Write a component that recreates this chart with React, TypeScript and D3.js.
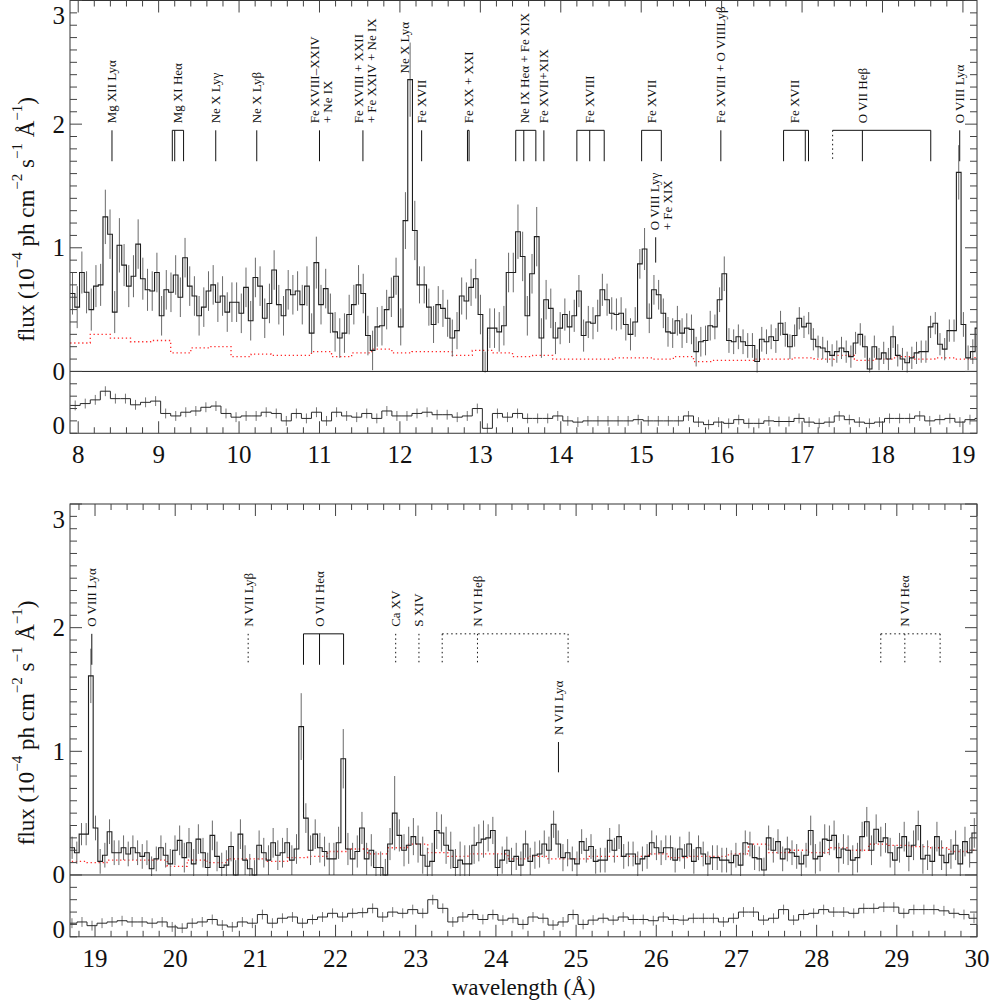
import React from "react";
import * as d3 from "d3";

// Spectrum: one bin every 0.0583 Å starting at 7.90 Å
const BIN_START = 7.9;
const BIN_WIDTH = 0.0583;

const flux = [
  0.63, 0.52, 0.8, 0.64, 0.5, 0.69, 0.7, 1.25, 1.11, 0.48,
  1.02, 0.86, 0.69, 0.77, 1.03, 0.75, 0.66, 0.65, 0.8, 0.45,
  0.66, 0.64, 0.78, 0.6, 0.92, 0.69, 0.61, 0.45, 0.52, 0.65,
  0.7, 0.56, 0.61, 0.48, 0.56, 0.56, 0.47, 0.68, 0.41, 0.76,
  0.69, 0.43, 0.55, 0.82, 0.54, 0.45, 0.66, 0.62, 0.65, 0.54,
  0.69, 0.31, 0.88, 0.54, 0.67, 0.47, 0.32, 0.27, 0.31, 0.46,
  0.54, 0.7, 0.63, 0.29, 0.17, 0.36, 0.37, 0.5, 0.6, 0.77,
  0.36, 1.22, 2.36, 1.14, 0.7, 0.7, 0.52, 0.38, 0.54, 0.51,
  0.43, 0.27, 0.33, 0.61, 0.57, 0.68, 0.75, 0.46, 0.0, 0.35,
  0.35, 0.32, 0.37, 0.8, 0.8, 1.13, 0.93, 0.45, 0.79, 1.09,
  0.27, 0.58, 0.51, 0.27, 0.35, 0.46, 0.36, 0.45, 0.65, 0.29,
  0.4, 0.39, 0.45, 0.66, 0.58, 0.47, 0.46, 0.47, 0.38, 0.3,
  0.4, 0.87, 0.99, 0.43, 0.66, 0.62, 0.47, 0.32, 0.31, 0.41,
  0.31, 0.35, 0.34, 0.16, 0.24, 0.25, 0.37, 0.36, 0.58, 0.79,
  0.25, 0.24, 0.28, 0.24, 0.21, 0.21, 0.08, 0.26, 0.24, 0.28,
  0.25, 0.39, 0.3, 0.2, 0.29, 0.43, 0.36, 0.39, 0.26, 0.2,
  0.19, 0.16, 0.13, 0.16, 0.19, 0.16, 0.12, 0.23, 0.3, 0.2,
  0.02, 0.2, 0.1, 0.15, 0.1, 0.28, 0.13, 0.1, 0.07, 0.11,
  0.15, 0.16, 0.16, 0.36, 0.39, 0.22, 0.18, 0.33, 0.33, 1.61,
  0.38, 0.11, 0.16, 0.35, 0.18, 0.18, 0.22, 0.17, 0.22, 0.18,
  0.15, 0.18, 0.05, 0.13, 0.22, 0.16, 0.09, 0.2, 0.28, 0.14,
  0.26, 0.09, 0.29, 0.18, 0.06, 0.32, 0.15, 0.06, 0.08, 0.23,
  0.0, 0.33, 0.12, 0.05, 0.0, 0.24, 0.18, 0.12, 0.26, 0.16,
  0.18, 0.26, 0.12, 0.21, 1.2, 0.46, 0.2, 0.33, 0.22, 0.19,
  0.13, 0.13, 0.26, 0.94, 0.21, 0.13, 0.19, 0.38, 0.13, 0.2,
  0.06, 0.06, 0.0, 0.25, 0.5, 0.32, 0.2, 0.24, 0.31, 0.25,
  0.16, 0.07, 0.11, 0.36, 0.34, 0.24, 0.2, 0.06, 0.12, 0.09,
  0.09, 0.24, 0.26, 0.29, 0.3, 0.36, 0.06, 0.12, 0.2, 0.11,
  0.15, 0.08, 0.25, 0.11, 0.16, 0.17, 0.25, 0.2, 0.41, 0.25,
  0.14, 0.18, 0.13, 0.09, 0.27, 0.2, 0.23, 0.11, 0.12, 0.12,
  0.28, 0.2, 0.31, 0.15, 0.17, 0.17, 0.09, 0.13, 0.15, 0.26,
  0.22, 0.18, 0.22, 0.22, 0.12, 0.21, 0.15, 0.25, 0.11, 0.22,
  0.17, 0.09, 0.14, 0.14, 0.12, 0.12, 0.1, 0.16, 0.08, 0.26,
  0.25, 0.14, 0.13, 0.04, 0.3, 0.2, 0.27, 0.13, 0.21, 0.18,
  0.15, 0.09, 0.16, 0.36, 0.13, 0.15, 0.29, 0.28, 0.32, 0.14,
  0.21, 0.2, 0.12, 0.14, 0.31, 0.43, 0.2, 0.37, 0.27, 0.3,
  0.18, 0.12, 0.22, 0.31, 0.15, 0.24, 0.4, 0.13, 0.16, 0.11,
  0.31, 0.16, 0.1, 0.17, 0.24, 0.09, 0.27, 0.18, 0.34,
];

// typical 1-sigma error for each 1 Å stretch, starting at 7.9 Å
const fluxErrByStretch = [
  0.17, 0.16, 0.16, 0.16, 0.15, 0.16, 0.13, 0.12, 0.1, 0.09, 0.09, 0.1,
  0.12, 0.12, 0.13, 0.15, 0.11, 0.1, 0.1, 0.1, 0.12, 0.12, 0.12,
];
// bins (0-based) whose error bars are clearly longer than typical
const peakErrBins = [7, 8, 10, 14, 52, 71, 72, 73, 95, 96, 99, 122, 139, 189, 234, 243, 254];
const peakErrValues = [0.22, 0.2, 0.22, 0.2, 0.21, 0.23, 0.3, 0.24, 0.22, 0.2, 0.24, 0.17, 0.14, 0.22, 0.27, 0.24, 0.3];

// background (red dotted), 0.25 Å steps from 7.9 Å
const BKG_START = 7.9;
const BKG_STEP = 0.25;
const background = [
  0.23, 0.3, 0.27, 0.24, 0.25, 0.15, 0.19, 0.2, 0.12, 0.14, 0.13, 0.13, 0.16, 0.12, 0.15,
  0.18, 0.15, 0.16, 0.16, 0.13, 0.17, 0.15, 0.12, 0.13, 0.1, 0.1, 0.1, 0.11, 0.11, 0.1,
  0.12, 0.08, 0.09, 0.09, 0.1, 0.1, 0.11, 0.1, 0.13, 0.09, 0.1, 0.12, 0.1, 0.11, 0.1,
  0.12, 0.12, 0.12, 0.07, 0.12, 0.1, 0.13, 0.13, 0.11, 0.14, 0.15, 0.19, 0.21, 0.17, 0.22,
  0.25, 0.18, 0.15, 0.17, 0.17, 0.13, 0.15, 0.13, 0.13, 0.15, 0.15, 0.15, 0.17, 0.14, 0.15,
  0.15, 0.17, 0.25, 0.18, 0.2, 0.18, 0.22, 0.2, 0.25, 0.24, 0.23, 0.22, 0.19, 0.2,
];

// lower strip, 0.125 Å steps from 7.9 Å, plotted around its own zero
const RES_START = 7.9;
const RES_STEP = 0.125;
const RES_ZERO = -0.44;
const RES_ERR = 0.04;
const residual = [
  0.165, 0.18, 0.21, 0.28, 0.22, 0.22, 0.17, 0.19, 0.2, 0.1,
  0.08, 0.11, 0.12, 0.15, 0.16, 0.1, 0.07, 0.08, 0.08, 0.11,
  0.1, 0.04, 0.1, 0.06, 0.11, 0.04, 0.11, 0.08, 0.07, 0.1,
  0.06, 0.12, 0.08, 0.08, 0.1, 0.11, 0.09, 0.09, 0.07, 0.08,
  0.14, -0.02, 0.1, 0.07, 0.1, 0.06, 0.06, 0.06, 0.08, 0.04,
  0.03, 0.04, 0.04, 0.04, 0.04, 0.04, 0.05, 0.04, 0.04, 0.04,
  0.04, 0.08, 0.03, 0.01, 0.03, 0.02, 0.05, 0.02, 0.02, 0.04,
  0.035, 0.035, 0.06, 0.03, 0.02, 0.03, 0.08, 0.05, 0.03, 0.02,
  0.03, 0.06, 0.06, 0.06, 0.08, 0.04, 0.05, 0.06, 0.03, 0.05,
  0.06, 0.07, 0.06, 0.06, 0.05, 0.06, 0.02, 0.01, 0.05, 0.06,
  0.08, 0.035, 0.02, 0.06, 0.05, 0.12, 0.05, 0.09, 0.1, 0.05,
  0.08, 0.1, 0.13, 0.1, 0.13, 0.135, 0.17,
  0.1, 0.14, 0.13, 0.16, 0.13, 0.24, 0.17, 0.06, 0.1, 0.12,
  0.08, 0.12, 0.075, 0.09, 0.04, 0.1, 0.09, 0.035, 0.06, 0.12,
  0.04, 0.075, 0.09, 0.075, 0.1, 0.08, 0.08, 0.07, 0.1, 0.08,
  0.075, 0.09, 0.09, 0.09, 0.06, 0.09, 0.14, 0.14, 0.075, 0.09,
  0.16, 0.075, 0.12, 0.13, 0.16, 0.14, 0.14, 0.13, 0.17, 0.17,
  0.18, 0.18, 0.13, 0.16, 0.16, 0.16, 0.15, 0.13, 0.12, 0.09,
];

// line identifications: wavelengths in Å, marker heights in flux units
type LineId = {
  label: string[];
  waves: number[];
  tentative: number[];
  labelWave: number;
  markTop?: number;
  markBottom?: number;
  labelBase?: number;
};

const lineIds: LineId[] = [
  { label: ["Mg XII Lyα"], waves: [8.42], tentative: [], labelWave: 8.42 },
  { label: ["Mg XI Heα"], waves: [9.17, 9.2, 9.31], tentative: [], labelWave: 9.24 },
  { label: ["Ne X Lyγ"], waves: [9.71], tentative: [], labelWave: 9.71 },
  { label: ["Ne X Lyβ"], waves: [10.22], tentative: [], labelWave: 10.22 },
  { label: ["Fe XVIII–XXIV", "+ Ne IX"], waves: [11.0], tentative: [], labelWave: 11.02 },
  { label: ["Fe XVIII + XXII", "+ Fe XXIV + Ne IX"], waves: [11.54], tentative: [], labelWave: 11.565 },
  { label: ["Ne X Lyα"], waves: [], tentative: [], labelWave: 12.06, labelBase: 2.41 },
  { label: ["Fe XVII"], waves: [12.27], tentative: [], labelWave: 12.27 },
  { label: ["Fe XX + XXI"], waves: [12.84, 12.86], tentative: [], labelWave: 12.85 },
  { label: ["Ne IX Heα + Fe XIX"], waves: [13.44, 13.54, 13.69], tentative: [], labelWave: 13.55 },
  { label: ["Fe XVII+XIX"], waves: [13.79], tentative: [], labelWave: 13.79 },
  { label: ["Fe XVIII"], waves: [14.2, 14.36, 14.54], tentative: [], labelWave: 14.36 },
  { label: ["Fe XVII"], waves: [15.005, 15.25], tentative: [], labelWave: 15.13 },
  { label: ["O VIII Lyγ", "+ Fe XIX"], waves: [15.18], tentative: [], labelWave: 15.25, markTop: 1.085, markBottom: 0.88 },
  { label: ["Fe XVIII + O VIIILyβ"], waves: [15.99], tentative: [], labelWave: 15.99 },
  { label: ["Fe XVII"], waves: [16.77, 17.04, 17.08], tentative: [], labelWave: 16.9 },
  { label: ["O VII Heβ"], waves: [17.75, 18.6], tentative: [17.38], labelWave: 17.75 },
  { label: ["O VIII Lyα"], waves: [18.96], tentative: [], labelWave: 18.96 },
  { label: ["N VII Lyβ"], waves: [], tentative: [20.91], labelWave: 20.91 },
  { label: ["O VII Heα"], waves: [21.6, 21.8, 22.1], tentative: [], labelWave: 21.8 },
  { label: ["Ca XV"], waves: [], tentative: [22.75], labelWave: 22.75 },
  { label: ["S XIV"], waves: [], tentative: [23.04], labelWave: 23.04 },
  { label: ["N VI Heβ"], waves: [], tentative: [23.33, 23.77, 24.9], labelWave: 23.77 },
  { label: ["N VII Lyα"], waves: [24.78], tentative: [], labelWave: 24.78, markTop: 1.075, markBottom: 0.83 },
  { label: ["N VI Heα"], waves: [], tentative: [28.8, 29.1, 29.54], labelWave: 29.1 },
];

const FONT = "'Liberation Serif', 'Times New Roman', serif";
const LEFT = 70;
const RIGHT = 977;

function errorOf(i: number): number {
  const k = peakErrBins.indexOf(i);
  if (k >= 0) return peakErrValues[k];
  const center = BIN_START + (i + 0.5) * BIN_WIDTH;
  return fluxErrByStretch[Math.floor(center - BIN_START)];
}

function stepPoints(start: number, step: number, vals: number[]): [number, number][] {
  const pts: [number, number][] = vals.map((v, i) => [start + i * step, v]);
  pts.push([start + vals.length * step, vals[vals.length - 1]]);
  return pts;
}

type PanelProps = { id: number; domain: [number, number]; top: number; bottom: number; xTitle: boolean };

function Panel({ id, domain, top, bottom, xTitle }: PanelProps) {
  const x = d3.scaleLinear().domain(domain).range([LEFT, RIGHT]);
  const y = d3.scaleLinear().domain([-0.5, 3]).range([bottom, top]);
  const y0 = y(0);

  const step = d3
    .line<[number, number]>()
    .x((d) => x(d[0]))
    .y((d) => y(d[1]))
    .curve(d3.curveStepAfter);
  const resStep = d3
    .line<[number, number]>()
    .x((d) => x(d[0]))
    .y((d) => y(d[1] + RES_ZERO))
    .curve(d3.curveStepAfter);

  const xMinor = d3.range(Math.ceil(domain[0] * 5), Math.floor(domain[1] * 5) + 1);
  const yMinor = d3.range(-5, 31);
  const xLabels = d3.range(Math.ceil(domain[0]), Math.floor(domain[1]) + 1);

  const visibleIds = lineIds.filter((l) => l.labelWave > domain[0] && l.labelWave < domain[1]);

  return (
    <g>
      <defs>
        <clipPath id={`main${id}`}>
          <rect x={LEFT} y={top} width={RIGHT - LEFT} height={y0 - top + 1} />
        </clipPath>
        <clipPath id={`res${id}`}>
          <rect x={LEFT} y={y0 + 1} width={RIGHT - LEFT} height={bottom - y0 - 1} />
        </clipPath>
      </defs>

      {/* background */}
      <path
        clipPath={`url(#main${id})`}
        d={step(stepPoints(BKG_START, BKG_STEP, background)) || ""}
        fill="none"
        stroke="#ff2a2a"
        strokeWidth={1.3}
        strokeDasharray="1.3,2.7"
      />

      {/* spectrum with error bars */}
      <g clipPath={`url(#main${id})`}>
        {flux.map((v, i) => {
          const c = BIN_START + (i + 0.5) * BIN_WIDTH;
          const e = errorOf(i);
          return (
            <line key={i} x1={x(c)} x2={x(c)} y1={y(v - e)} y2={y(v + e)} stroke="#6a6a6a" strokeWidth={1} />
          );
        })}
        <path d={step(stepPoints(BIN_START, BIN_WIDTH, flux)) || ""} fill="none" stroke="#1e1e1e" strokeWidth={1.1} />
      </g>

      {/* lower strip */}
      <g clipPath={`url(#res${id})`}>
        {residual.map((r, i) => {
          const c = RES_START + (i + 0.5) * RES_STEP;
          return (
            <line
              key={i}
              x1={x(c)}
              x2={x(c)}
              y1={y(r - RES_ERR + RES_ZERO)}
              y2={y(r + RES_ERR + RES_ZERO)}
              stroke="#777"
              strokeWidth={1}
            />
          );
        })}
        <path d={resStep(stepPoints(RES_START, RES_STEP, residual)) || ""} fill="none" stroke="#2a2a2a" strokeWidth={1} />
      </g>

      {/* zero line */}
      <line x1={LEFT} x2={RIGHT} y1={y0} y2={y0} stroke="#222" strokeWidth={1} />

      {/* line identifications */}
      {visibleIds.map((l, k) => {
        const mt = y(l.markTop ?? 1.95);
        const mb = y(l.markBottom ?? 1.7);
        const all = [...l.waves, ...l.tentative];
        const lx = x(l.labelWave);
        const base = l.labelBase !== undefined ? y(l.labelBase) : mt - 7;
        return (
          <g key={k}>
            {all.length > 1 && (
              <line
                x1={x(d3.min(all)!)}
                x2={x(d3.max(all)!)}
                y1={mt}
                y2={mt}
                stroke="#111"
                strokeWidth={1}
                strokeDasharray={l.waves.length === 0 ? "1.5,3" : undefined}
              />
            )}
            {l.waves.map((w, j) => (
              <line key={`s${j}`} x1={x(w)} x2={x(w)} y1={mt} y2={mb} stroke="#111" strokeWidth={1} />
            ))}
            {l.tentative.map((w, j) => (
              <line key={`t${j}`} x1={x(w)} x2={x(w)} y1={mt} y2={mb} stroke="#111" strokeWidth={1} strokeDasharray="1.5,3" />
            ))}
            {l.label.map((s, j) => (
              <text
                key={j}
                transform={`translate(${lx + (j - (l.label.length - 1) / 2) * 13},${base}) rotate(-90)`}
                fontFamily={FONT}
                fontSize={13}
                dominantBaseline="central"
                fill="#111"
              >
                {s}
              </text>
            ))}
          </g>
        );
      })}

      {/* frame */}
      <rect x={LEFT} y={top} width={RIGHT - LEFT} height={bottom - top} fill="none" stroke="#333" strokeWidth={1} />

      {/* x ticks, top and bottom */}
      {xMinor.map((k) => {
        const len = k % 5 === 0 ? 12 : 6;
        const px = x(k / 5);
        return (
          <g key={k} stroke="#444" strokeWidth={1}>
            <line x1={px} x2={px} y1={top} y2={top + len} />
            <line x1={px} x2={px} y1={bottom} y2={bottom - len} />
          </g>
        );
      })}
      {/* y ticks, left and right */}
      {yMinor.map((k) => {
        const len = k % 10 === 0 && k >= 0 ? 12 : 7;
        const py = y(k / 10);
        return (
          <g key={k} stroke="#444" strokeWidth={1}>
            <line x1={LEFT} x2={LEFT + len} y1={py} y2={py} />
            <line x1={RIGHT} x2={RIGHT - len} y1={py} y2={py} />
          </g>
        );
      })}

      {/* tick labels */}
      {xLabels.map((v) => (
        <text key={v} x={x(v)} y={bottom + 30} textAnchor="middle" fontFamily={FONT} fontSize={25} fill="#111">
          {v}
        </text>
      ))}
      {[0, 1, 2, 3].map((v) => (
        <text
          key={v}
          x={65}
          y={Math.max(y(v), top + 15)}
          textAnchor="end"
          dominantBaseline="central"
          fontFamily={FONT}
          fontSize={25}
          fill="#111"
        >
          {v}
        </text>
      ))}
      <text x={65} y={y(RES_ZERO)} textAnchor="end" dominantBaseline="central" fontFamily={FONT} fontSize={25} fill="#111">
        0
      </text>

      {/* y title */}
      <text
        transform={`translate(26,${y(1.23)}) rotate(-90)`}
        textAnchor="middle"
        dominantBaseline="central"
        fontFamily={FONT}
        fontSize={23}
        fill="#111"
      >
        flux (10
        <tspan dy={-9} fontSize={15}>−4</tspan>
        <tspan dy={9}> ph cm</tspan>
        <tspan dy={-9} fontSize={15}>−2</tspan>
        <tspan dy={9}> s</tspan>
        <tspan dy={-9} fontSize={15}>−1</tspan>
        <tspan dy={9}> Å</tspan>
        <tspan dy={-9} fontSize={15}>−1</tspan>
        <tspan dy={9}>)</tspan>
      </text>

      {xTitle && (
        <text x={(LEFT + RIGHT) / 2} y={bottom + 58} textAnchor="middle" fontFamily={FONT} fontSize={23} fill="#111">
          wavelength (Å)
        </text>
      )}
    </g>
  );
}

export default function App() {
  return (
    <svg
      width={1008}
      height={1008}
      style={{ position: "absolute", left: 0, top: 0, background: "#fff" }}
    >
      <Panel id={0} domain={[7.898, 19.175]} top={0.5} bottom={433.25} xTitle={false} />
      <Panel id={1} domain={[18.688, 30.0]} top={504} bottom={936.8} xTitle={true} />
    </svg>
  );
}
